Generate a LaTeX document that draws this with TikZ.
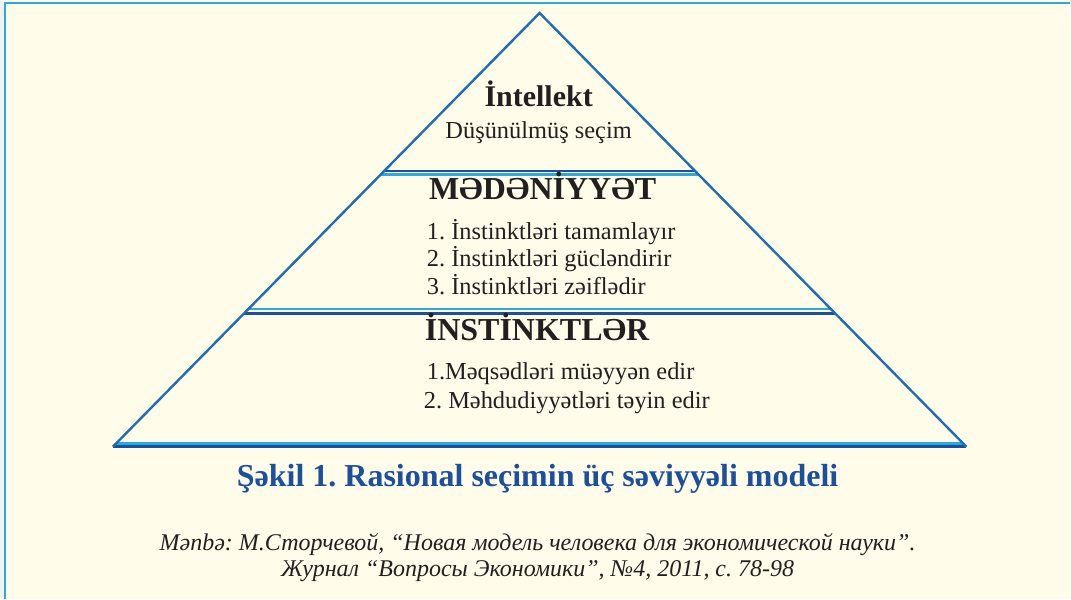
\documentclass[tikz,border=0pt]{standalone}
\usepackage{fontspec}
\setmainfont{Liberation Serif}
\frenchspacing

\definecolor{paper}{HTML}{FFFCEA}
\definecolor{sideblue}{HTML}{1E6DB5}
\definecolor{darkblue}{HTML}{1C4F9C}
\definecolor{lightblue}{HTML}{2AAAE1}
\definecolor{ink}{HTML}{231F20}

\tikzset{
  side/.style={sideblue,line width=2.4pt,line join=miter},
  darkrule/.style={darkblue,line width=2.6pt},
  lightrule/.style={lightblue,line width=2.4pt},
  title/.style={font=\fontsize{32}{36}\selectfont\bfseries,text=ink,anchor=base,inner sep=0pt},
  item/.style={font=\fontsize{24.4}{28}\selectfont,text=ink,anchor=base west,inner sep=0pt},
  caption/.style={font=\fontsize{32}{36}\selectfont\bfseries,text=darkblue,anchor=base,inner sep=0pt},
  source/.style={font=\fontsize{24}{28}\selectfont\itshape,text=ink,anchor=base,inner sep=0pt},
}

\begin{document}
\begin{tikzpicture}[x=1pt,y=-1pt]
	% Paper and frame:
	\fill [paper] (0,0) rectangle (1071,599);
	\fill [gray!10] (0,0) rectangle (4,599);
	\draw [lightblue,line width=1.5pt] (5,599) -- (5,3) -- (1071,3);

	% Corners of the pyramid:
	\coordinate (apex) at (540,13);
	\coordinate (bl) at (113,447);
	\coordinate (br) at (967,447);

	% Double rules between the levels (dark and light line):
	\foreach \t/\s/\n in {0.3645/darkrule/a, 0.3725/lightrule/b,
	                      0.6825/lightrule/c, 0.6930/darkrule/d,
	                      0.9925/lightrule/e} {
		\path (apex) -- (bl) coordinate [pos=\t] (l\n);
		\path (apex) -- (br) coordinate [pos=\t] (r\n);
		\draw [\s] (l\n) -- (r\n);
	}
	\draw [darkrule] (bl) -- (br);

	% Sides:
	\draw [side] (bl) -- (apex) -- (br);

	% Top level:
	\node [title,font=\fontsize{30}{34}\selectfont\bfseries] (intellekt) at (539,107) {İntellekt};
	\node [item,anchor=base] (dusunce) at (539,139) {Düşünülmüş seçim};

	% Middle level:
	\node [title] (medeniyyet) at (543,200) {MƏDƏNİYYƏT};
	\node [item] (m1) at (427,240) {1. İnstinktləri tamamlayır};
	\node [item] (m2) at (427,267) {2. İnstinktləri gücləndirir};
	\node [item] (m3) at (427,295) {3. İnstinktləri zəiflədir};

	% Bottom level:
	\node [title,anchor=base west] (instinkt) at (425,341) {İNSTİNKTLƏR};
	\node [item] (i1) at (427,380) {1.Məqsədləri müəyyən edir};
	\node [item] (i2) at (424,409) {2. Məhdudiyyətləri təyin edir};

	% Caption and source:
	\node [caption] (sekil) at (538,487) {Şəkil 1. Rasional seçimin üç səviyyəli modeli};
	\node [source] (menbe) at (538,551) {Mənbə: M.Сторчевой, “Новая модель человека для экономической науки”.};
	\node [source] (jurnal) at (538,577) {Журнал “Вопросы Экономики”, №4, 2011, с. 78-98};
\end{tikzpicture}
\end{document}
